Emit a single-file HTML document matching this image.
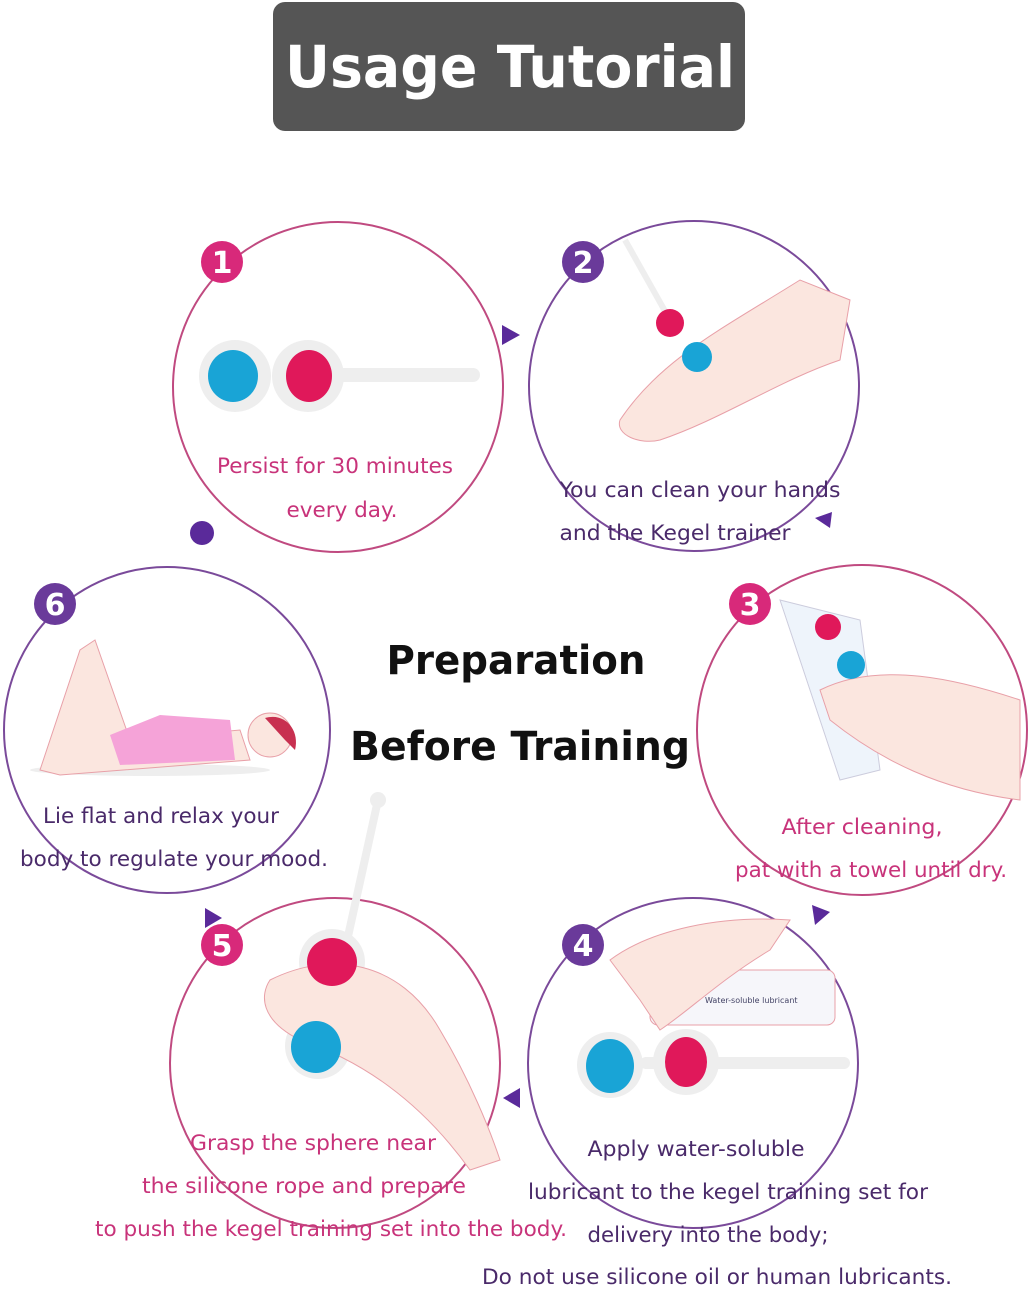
<!DOCTYPE html>
<html><head><meta charset="utf-8"><style>
html,body{margin:0;padding:0;background:#fff;}
svg text{font-family:"DejaVu Sans","Liberation Sans",sans-serif;}
</style></head><body>
<svg width="1030" height="1287" viewBox="0 0 1030 1287" xmlns="http://www.w3.org/2000/svg">
<rect x="273" y="2" width="472" height="129" rx="12" fill="#555"/>
<text x="510" y="87" text-anchor="middle" font-size="58" font-weight="bold" fill="#fff" textLength="450" lengthAdjust="spacingAndGlyphs">Usage Tutorial</text>

<g fill="none" stroke-width="2">
<circle cx="338" cy="387" r="165" stroke="#c04a80"/>
<circle cx="694" cy="386" r="165" stroke="#7a4a9a"/>
<circle cx="862" cy="730" r="165" stroke="#c04a80"/>
<circle cx="693" cy="1063" r="165" stroke="#7a4a9a"/>
<circle cx="335" cy="1063" r="165" stroke="#c04a80"/>
<circle cx="167" cy="730" r="163" stroke="#7a4a9a"/>
</g>
<g fill="#5a2a9a">
<polygon points="502,325 502,345 520,335"/>
<polygon points="815,518 832,512 830,528"/>
<polygon points="812,905 830,912 815,925"/>
<polygon points="520,1088 520,1108 503,1098"/>
<polygon points="205,908 222,918 205,928"/>
<circle cx="202" cy="533" r="12"/>
</g>

<g font-size="30" font-weight="bold" fill="#fff" text-anchor="middle">
<circle cx="222" cy="262" r="21" fill="#d8297a"/><text x="222" y="273">1</text>
<circle cx="583" cy="262" r="21" fill="#6a3a9a"/><text x="583" y="273">2</text>
<circle cx="750" cy="604" r="21" fill="#d8297a"/><text x="750" y="615">3</text>
<circle cx="583" cy="945" r="21" fill="#6a3a9a"/><text x="583" y="956">4</text>
<circle cx="222" cy="945" r="21" fill="#d8297a"/><text x="222" y="956">5</text>
<circle cx="55" cy="604" r="21" fill="#6a3a9a"/><text x="55" y="615">6</text>
</g>

<g>
<rect x="300" y="368" width="180" height="14" rx="7" fill="#eee"/>
<circle cx="235" cy="376" r="36" fill="#eee"/><circle cx="308" cy="376" r="36" fill="#eee"/>
<ellipse cx="233" cy="376" rx="25" ry="26" fill="#19a4d6"/>
<ellipse cx="309" cy="376" rx="23" ry="26" fill="#e0185a"/>
</g>
<g>
<path d="M620,420 C660,360 720,330 800,280 L850,300 L840,360 C780,380 720,420 660,440 C640,445 615,435 620,420Z" fill="#fbe6df" stroke="#e8a0a8"/>
<line x1="625" y1="240" x2="670" y2="320" stroke="#eee" stroke-width="6"/>
<circle cx="670" cy="323" r="14" fill="#e0185a"/>
<circle cx="697" cy="357" r="15" fill="#19a4d6"/>
</g>
<g>
<path d="M780,600 L860,620 L880,770 L840,780 Z" fill="#eef4fb" stroke="#ccd"/>
<path d="M820,690 C880,660 960,680 1020,700 L1020,800 C940,790 880,760 830,720Z" fill="#fbe6df" stroke="#e8a0a8"/>
<circle cx="828" cy="627" r="13" fill="#e0185a"/>
<circle cx="851" cy="665" r="14" fill="#19a4d6"/>
</g>
<g>
<rect x="650" y="970" width="185" height="55" rx="8" fill="#f6f6fa" stroke="#e8a0a8"/>
<text x="705" y="1003" font-size="8" fill="#446">Water-soluble lubricant</text>
<path d="M610,960 C650,930 720,915 790,920 L770,950 C720,980 690,1010 660,1030 L640,1000Z" fill="#fbe6df" stroke="#e8a0a8"/>
<rect x="640" y="1057" width="210" height="12" rx="6" fill="#eee"/>
<circle cx="610" cy="1065" r="33" fill="#eee"/><circle cx="686" cy="1062" r="33" fill="#eee"/>
<ellipse cx="610" cy="1066" rx="24" ry="27" fill="#19a4d6"/>
<ellipse cx="686" cy="1062" rx="21" ry="25" fill="#e0185a"/>
</g>
<g>
<line x1="378" y1="800" x2="345" y2="950" stroke="#eee" stroke-width="8"/>
<circle cx="378" cy="800" r="8" fill="#eee"/>
<circle cx="332" cy="962" r="33" fill="#eee"/><circle cx="318" cy="1046" r="33" fill="#eee"/>
<path d="M270,980 C330,950 400,960 440,1030 C470,1080 490,1130 500,1160 L470,1170 C420,1100 360,1060 300,1040 C260,1020 260,995 270,980Z" fill="#fbe6df" stroke="#e8a0a8"/>
<ellipse cx="332" cy="962" rx="25" ry="24" fill="#e0185a"/>
<ellipse cx="316" cy="1047" rx="25" ry="26" fill="#19a4d6"/>
</g>
<g>
<ellipse cx="150" cy="770" rx="120" ry="6" fill="#eee"/>
<path d="M40,770 L80,650 L95,640 L130,740 L240,730 L250,760 L60,775Z" fill="#fbe6df" stroke="#e8a0a8"/>
<path d="M110,735 L160,715 L230,720 L235,760 L120,765Z" fill="#f5a3d8"/>
<circle cx="270" cy="735" r="22" fill="#fbe6df" stroke="#e8a0a8"/>
<path d="M265,718 C285,712 300,730 295,750 L285,740Z" fill="#c83050"/>
</g>

<text x="516" y="674" text-anchor="middle" font-size="40" font-weight="bold" fill="#111" textLength="259" lengthAdjust="spacingAndGlyphs">Preparation</text>
<text x="520" y="760" text-anchor="middle" font-size="40" font-weight="bold" fill="#111" textLength="340" lengthAdjust="spacingAndGlyphs">Before Training</text>

<g font-size="21" text-anchor="middle">
<text x="335" y="473" fill="#c8337a" textLength="236" lengthAdjust="spacingAndGlyphs">Persist for 30 minutes</text>
<text x="342" y="517" fill="#c8337a" textLength="111" lengthAdjust="spacingAndGlyphs">every day.</text>
<text x="700" y="497" fill="#4a2a6a" textLength="281" lengthAdjust="spacingAndGlyphs">You can clean your hands</text>
<text x="675" y="540" fill="#4a2a6a" textLength="231" lengthAdjust="spacingAndGlyphs">and the Kegel trainer</text>
<text x="862" y="834" fill="#c8337a" textLength="161" lengthAdjust="spacingAndGlyphs">After cleaning,</text>
<text x="871" y="877" fill="#c8337a" textLength="272" lengthAdjust="spacingAndGlyphs">pat with a towel until dry.</text>
<text x="161" y="823" fill="#4a2a6a" textLength="236" lengthAdjust="spacingAndGlyphs">Lie flat and relax your</text>
<text x="174" y="866" fill="#4a2a6a" textLength="308" lengthAdjust="spacingAndGlyphs">body to regulate your mood.</text>
<text x="696" y="1156" fill="#4a2a6a" textLength="217" lengthAdjust="spacingAndGlyphs">Apply water-soluble</text>
<text x="728" y="1199" fill="#4a2a6a" textLength="400" lengthAdjust="spacingAndGlyphs">lubricant to the kegel training set for</text>
<text x="708" y="1242" fill="#4a2a6a" textLength="241" lengthAdjust="spacingAndGlyphs">delivery into the body;</text>
<text x="717" y="1284" fill="#4a2a6a" textLength="470" lengthAdjust="spacingAndGlyphs">Do not use silicone oil or human lubricants.</text>
<text x="313" y="1150" fill="#c8337a" textLength="246" lengthAdjust="spacingAndGlyphs">Grasp the sphere near</text>
<text x="304" y="1193" fill="#c8337a" textLength="324" lengthAdjust="spacingAndGlyphs">the silicone rope and prepare</text>
<text x="331" y="1236" fill="#c8337a" textLength="472" lengthAdjust="spacingAndGlyphs">to push the kegel training set into the body.</text>
</g>
</svg>
</body></html>
